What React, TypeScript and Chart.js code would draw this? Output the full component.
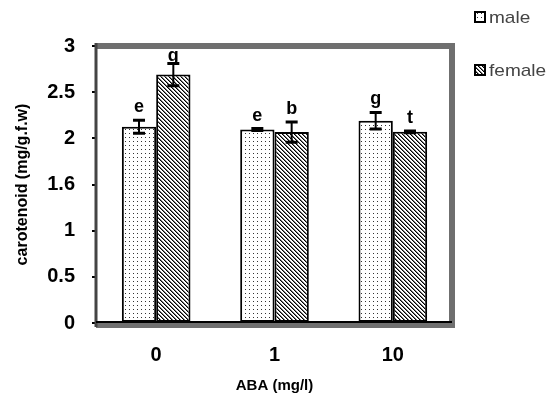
import React, { useEffect, useRef } from "react";
import { Chart, registerables } from "chart.js";

Chart.register(...registerables);

const categories = ["0", "1", "10"];
const seriesNames = ["male", "female"];
const maleValues = [2.125, 2.096, 2.19];
const femaleValues = [2.69, 2.068, 2.07];
const maleErrors = [0.07, 0.01, 0.09];
const femaleErrors = [0.12, 0.11, 0.01];
const maleLetters = ["e", "e", "g"];
const femaleLetters = ["g", "b", "t"];
const yTicks = [0, 0.5, 1, 1.5, 2, 2.5, 3];
const yTickLabels = ["0", "0.5", "1", "1.6", "2", "2.5", "3"];

const FONT = "'Liberation Sans', Arial, sans-serif";

function makeDots(): CanvasPattern | string {
  const c = document.createElement("canvas");
  c.width = 4;
  c.height = 4;
  const g = c.getContext("2d")!;
  g.fillStyle = "#ffffff";
  g.fillRect(0, 0, 4, 4);
  g.fillStyle = "#333333";
  g.fillRect(1, 1, 1, 1);
  const p = g.createPattern(c, "repeat");
  return p || "#fff";
}

function makeStripes(): CanvasPattern | string {
  const c = document.createElement("canvas");
  c.width = 4;
  c.height = 4;
  const g = c.getContext("2d")!;
  g.fillStyle = "#ffffff";
  g.fillRect(0, 0, 4, 4);
  for (let y = 0; y < 4; y++) {
    for (let x = 0; x < 4; x++) {
      const d = (((x - y) % 4) + 4) % 4;
      if (d === 0) {
        g.fillStyle = "#000000";
        g.fillRect(x, y, 1, 1);
      } else if (d === 1) {
        g.fillStyle = "#777777";
        g.fillRect(x, y, 1, 1);
      }
    }
  }
  const p = g.createPattern(c, "repeat");
  return p || "#888";
}

export default function App() {
  const ref = useRef<HTMLCanvasElement | null>(null);

  useEffect(() => {
    if (!ref.current) return;
    const dots = makeDots();
    const stripes = makeStripes();
    const errors = [maleErrors, femaleErrors];
    const letters = [maleLetters, femaleLetters];

    const overlay = {
      id: "overlay",
      afterDatasetsDraw(chart: any) {
        const ctx = chart.ctx;
        const { left, right, top, bottom } = chart.chartArea;
        const yScale = chart.scales.y;
        ctx.save();
        // gray frame
        ctx.strokeStyle = "#6f6f6f";
        ctx.lineWidth = 6;
        ctx.beginPath();
        ctx.moveTo(left - 1, top);
        ctx.lineTo(right, top);
        ctx.lineTo(right, bottom + 2);
        ctx.lineTo(left - 1, bottom + 2);
        ctx.stroke();
        ctx.lineWidth = 3;
        ctx.strokeStyle = "#444444";
        ctx.beginPath();
        ctx.moveTo(left - 1, top - 3);
        ctx.lineTo(left - 1, bottom + 4);
        ctx.stroke();
        ctx.strokeStyle = "#000000";
        ctx.lineWidth = 2;
        ctx.beginPath();
        ctx.moveTo(left - 1, bottom - 1);
        ctx.lineTo(right, bottom - 1);
        ctx.stroke();

        // error bars and letters
        [0, 1].forEach((di) => {
          const meta = chart.getDatasetMeta(di);
          const vals = chart.data.datasets[di].data as number[];
          meta.data.forEach((bar: any, i: number) => {
            const x = bar.x;
            const v = vals[i];
            const e = errors[di][i];
            const yTop = yScale.getPixelForValue(v + e);
            const yBot = yScale.getPixelForValue(v - e);
            ctx.strokeStyle = "#000";
            ctx.lineWidth = 2;
            ctx.beginPath();
            ctx.moveTo(x, yTop);
            ctx.lineTo(x, yBot);
            ctx.stroke();
            ctx.lineWidth = 3;
            ctx.beginPath();
            ctx.moveTo(x - 6, yTop);
            ctx.lineTo(x + 6, yTop);
            ctx.moveTo(x - 6, yBot);
            ctx.lineTo(x + 6, yBot);
            ctx.stroke();
            ctx.fillStyle = "#000";
            ctx.font = "bold 18px " + FONT;
            ctx.textAlign = "center";
            ctx.textBaseline = "middle";
            const ly = Math.max(yTop - 13, top + 10);
            ctx.fillText(letters[di][i], x, ly);
          });
        });

        // legend
        const items = [
          { name: seriesNames[0], fill: dots, y: 17 },
          { name: seriesNames[1], fill: stripes, y: 70 },
        ];
        items.forEach((it) => {
          ctx.fillStyle = it.fill as any;
          ctx.fillRect(475, it.y - 5, 10, 10);
          ctx.strokeStyle = "#000";
          ctx.lineWidth = 2;
          ctx.strokeRect(475, it.y - 5, 10, 10);
          ctx.fillStyle = "#444";
          ctx.font = "17px " + FONT;
          ctx.textAlign = "left";
          ctx.textBaseline = "middle";
          ctx.save();
          ctx.translate(489, it.y + 1);
          ctx.scale(1.12, 1);
          ctx.fillText(it.name, 0, 0);
          ctx.restore();
        });
        ctx.restore();
      },
    };

    const chart = new Chart(ref.current, {
      type: "bar",
      data: {
        labels: categories,
        datasets: [
          {
            label: seriesNames[0],
            data: maleValues,
            backgroundColor: dots as any,
            borderColor: "#000",
            borderWidth: 2,
            borderSkipped: false,
            categoryPercentage: 0.58,
            barPercentage: 1.0,
          },
          {
            label: seriesNames[1],
            data: femaleValues,
            backgroundColor: stripes as any,
            borderColor: "#000",
            borderWidth: 2,
            borderSkipped: false,
            categoryPercentage: 0.58,
            barPercentage: 1.0,
          },
        ],
      },
      options: {
        animation: false,
        responsive: false,
        maintainAspectRatio: false,
        layout: { padding: { top: 46, right: 100, left: 0, bottom: 0 } },
        plugins: {
          legend: { display: false },
          tooltip: { enabled: false },
        },
        scales: {
          x: {
            grid: {
              offset: true,
              drawOnChartArea: false,
              drawTicks: true,
              tickLength: 5,
              color: "#000",
              lineWidth: 2,
            },
            border: { display: false },
            ticks: {
              color: "#000",
              font: { family: FONT, size: 20, weight: "bold" },
              padding: 15,
              maxRotation: 0,
            },
            title: {
              display: true,
              text: "ABA (mg/l)",
              color: "#000",
              font: { family: FONT, size: 15, weight: "bold" },
              padding: { top: 6, bottom: 0 },
            },
            afterFit: (s: any) => {
              s.height = 72;
            },
          },
          y: {
            min: 0,
            max: 3,
            afterBuildTicks: (s: any) => {
              s.ticks = yTicks.map((v) => ({ value: v }));
            },
            grid: {
              drawOnChartArea: false,
              drawTicks: true,
              tickLength: 5,
              color: "#000",
              lineWidth: 2,
            },
            border: { display: false },
            ticks: {
              color: "#000",
              font: { family: FONT, size: 20, weight: "bold" },
              padding: 17,
              callback: (v: any) => {
                const idx = yTicks.indexOf(Number(v));
                return idx >= 0 ? yTickLabels[idx] : String(v);
              },
            },
            title: {
              display: true,
              text: "carotenoid (mg/g.f.w)",
              color: "#000",
              font: { family: FONT, size: 16, weight: "bold" },
              padding: { top: 13, bottom: 0 },
            },
            afterFit: (s: any) => {
              s.width = 97;
            },
          },
        },
      },
      plugins: [overlay],
    });
    return () => chart.destroy();
  }, []);

  return (
    <div style={{ position: "absolute", left: 0, top: 0, width: 552, height: 395, background: "#fff" }}>
      <canvas ref={ref} width={552} height={395} style={{ width: 552, height: 395 }} />
    </div>
  );
}
